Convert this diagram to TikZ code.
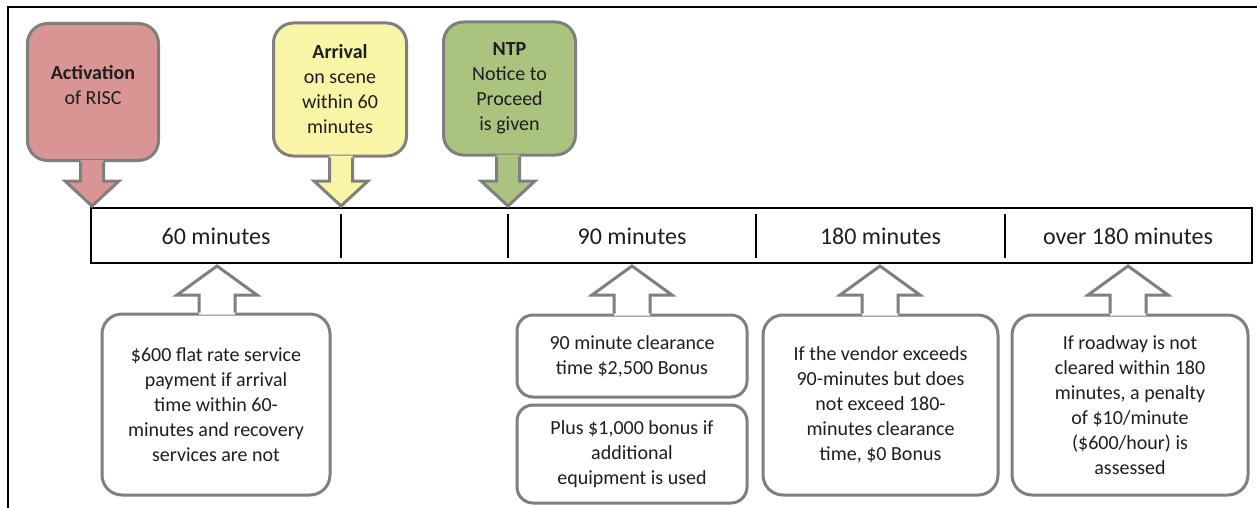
\documentclass[tikz,border=0pt]{standalone}
\usepackage{fontspec}
\setmainfont{Carlito}
\usetikzlibrary{calc}
\definecolor{actfill}{HTML}{D99494}
\definecolor{arrfill}{HTML}{FAF5A6}
\definecolor{ntpfill}{HTML}{AAC37F}
\definecolor{edgegray}{HTML}{7F7F7F}
\definecolor{txt}{HTML}{1E1E1E}
\tikzset{
  topbox/.style={draw=edgegray, line width=3pt, rounded corners=20pt, inner sep=0pt,
    text=txt, align=center, font=\fontsize{20}{25}\selectfont},
  botbox/.style={draw=edgegray, line width=3pt, rounded corners=20pt, fill=white, inner sep=0pt,
    text=txt, align=center, font=\fontsize{20}{25}\selectfont},
  seglabel/.style={text=txt, font=\fontsize{24}{29}\selectfont},
  edge/.style={draw=edgegray, line width=3pt, line join=miter},
}
% down arrow from box #1 to tip #2 with fill #3
\newcommand{\downarrowshape}[3]{%
  \fill[#3] let \p1=(#2), \p2=(#1.south) in
    (\x1-11.5pt,\y2+2pt) -- (\x1-11.5pt,\y1+25pt) -- (\x1-27pt,\y1+25pt) -- (\x1,\y1)
    -- (\x1+27pt,\y1+25pt) -- (\x1+11.5pt,\y1+25pt) -- (\x1+11.5pt,\y2+2pt) -- cycle;
  \draw[edge] let \p1=(#2), \p2=(#1.south) in
    (\x1-11.5pt,\y2) -- (\x1-11.5pt,\y1+25pt) -- (\x1-27pt,\y1+25pt) -- (\x1,\y1)
    -- (\x1+27pt,\y1+25pt) -- (\x1+11.5pt,\y1+25pt) -- (\x1+11.5pt,\y2);
}
% up arrow from box #1 to tip #2
\newcommand{\uparrowshape}[2]{%
  \fill[white] let \p1=(#2), \p2=(#1.north) in
    (\x1-18pt,\y2-2pt) -- (\x1-18pt,\y1-29pt) -- (\x1-40pt,\y1-29pt) -- (\x1,\y1)
    -- (\x1+40pt,\y1-29pt) -- (\x1+18pt,\y1-29pt) -- (\x1+18pt,\y2-2pt) -- cycle;
  \draw[edge] let \p1=(#2), \p2=(#1.north) in
    (\x1-18pt,\y2) -- (\x1-18pt,\y1-29pt) -- (\x1-40pt,\y1-29pt) -- (\x1,\y1)
    -- (\x1+40pt,\y1-29pt) -- (\x1+18pt,\y1-29pt) -- (\x1+18pt,\y2);
}
\begin{document}
\begin{tikzpicture}[x=1pt,y=-1pt]
\useasboundingbox (0,0) rectangle (1257,508);
% frame
\draw[line width=2pt] (8,508) -- (8,7) -- (1257,7);

% timeline
\node[draw=black, line width=2pt, minimum width=1161pt, minimum height=55pt, inner sep=0pt] (tl) at (671.5,235.5) {};
\draw[line width=1.2pt] (341,214) -- (341,258);
\draw[line width=1.2pt] (508,214) -- (508,258);
\draw[line width=1.2pt] (756,214) -- (756,258);
\draw[line width=1.2pt] (1005,214) -- (1005,258);
\node[seglabel] (s1) at (216,236) {60 minutes};
\node[seglabel] (s2) at (632,236) {90 minutes};
\node[seglabel] (s3) at (880.5,236) {180 minutes};
\node[seglabel] (s4) at (1128,236) {over 180 minutes};

% tips
\coordinate (tact) at (92,206);
\coordinate (tarr) at (341,206);
\coordinate (tntp) at (508,206);
\coordinate (t1) at (217,266);
\coordinate (t2) at (632,266);
\coordinate (t3) at (880,266);
\coordinate (t4) at (1128,266);

% top callouts
\node[topbox, fill=actfill, minimum width=131pt, minimum height=137pt] (act) at (93,92) {};
\node[text=txt, align=center, font=\fontsize{20}{25}\selectfont] (actt) at (93,85) {\textbf{Activation}\\of RISC};
\downarrowshape{act}{tact}{actfill}

\node[topbox, fill=arrfill, minimum width=133pt, minimum height=133pt] (arr) at (340,89.5) {\textbf{Arrival}\\on scene\\within 60\\minutes};
\downarrowshape{arr}{tarr}{arrfill}

\node[topbox, fill=ntpfill, minimum width=132pt, minimum height=133pt] (ntp) at (509.5,88.5) {\textbf{NTP}\\Notice to\\Proceed\\is given};
\downarrowshape{ntp}{tntp}{ntpfill}

% bottom callouts
\node[botbox, minimum width=228pt, minimum height=181pt] (b1) at (216,404.5)
  {\$600 flat rate service\\payment if arrival\\time within 60-\\minutes and recovery\\services are not};
\uparrowshape{b1}{t1}

\node[botbox, rounded corners=16pt, minimum width=230pt, minimum height=82pt] (b2) at (632,356)
  {90 minute clearance\\time \$2,500 Bonus};
\uparrowshape{b2}{t2}
\node[botbox, rounded corners=16pt, minimum width=230pt, minimum height=98pt] (b2b) at (632,454)
  {Plus \$1,000 bonus if\\additional\\equipment is used};

\node[botbox, minimum width=235pt, minimum height=180pt] (b3) at (880.5,405)
  {If the vendor exceeds\\90-minutes but does\\not exceed 180-\\minutes clearance\\time, \$0 Bonus};
\uparrowshape{b3}{t3}

\node[botbox, minimum width=236pt, minimum height=180pt] (b4) at (1130,405)
  {If roadway is not\\cleared within 180\\minutes, a penalty\\of \$10/minute\\(\$600/hour) is\\assessed};
\uparrowshape{b4}{t4}
\end{tikzpicture}
\end{document}
